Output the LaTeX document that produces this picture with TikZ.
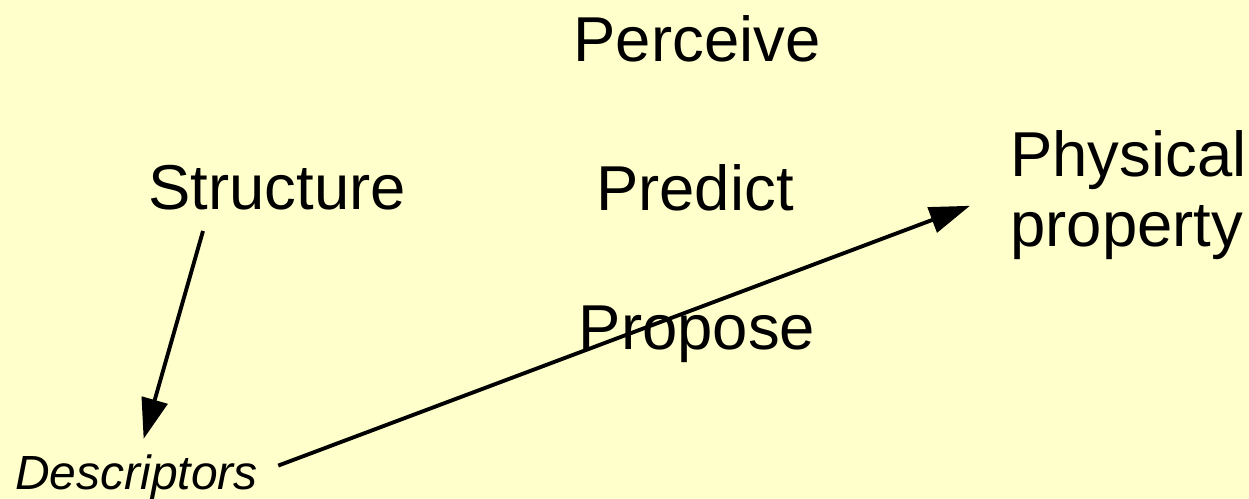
\documentclass[tikz,border=0pt]{standalone}
\usepackage{fontspec}
\setmainfont{Liberation Sans}
\usetikzlibrary{arrows.meta, positioning}
\definecolor{notepad}{HTML}{FFFFCC}

\begin{document}
\begin{tikzpicture}[
        x=0.02cm, y=-0.02cm,
        word/.style={
            inner sep=0pt,
            font=\fontsize{36.1}{39.7}\selectfont
        },
        small/.style={
            inner sep=0pt,
            font=\fontsize{27.3}{30}\selectfont\itshape
        },
        arrow/.style={
            -{Triangle[length=23pt,width=15pt]},
            line width=2.2pt,
            draw=black
        }
    ]
        \fill[notepad] (0,0) rectangle (1249,499);
        \useasboundingbox (0,0) rectangle (1249,499);

        \node (perceive) [word, anchor=base] at (697,62) {Perceive};
        \node (structure) [word, anchor=base] at (277,210) {Structure};
        \node (predict) [word, anchor=base] at (695,211) {Predict};
        \node (propose) [word, anchor=base] at (697,350) {Propose};
        \node (physical) [word, anchor=north west, align=left] at (1010,130) {Physical\\property};
        \node (descriptors) [small, anchor=base west] at (15,490) {Descriptors};

        \draw [arrow] ([shift={(-74,20)}]structure.south) -- ([shift={(7,-16)}]descriptors.north);
        \draw [arrow] ([shift={(20,-12)}]descriptors.east) -- ([shift={(-40,11)}]physical.west);
    \end{tikzpicture}
\end{document}
